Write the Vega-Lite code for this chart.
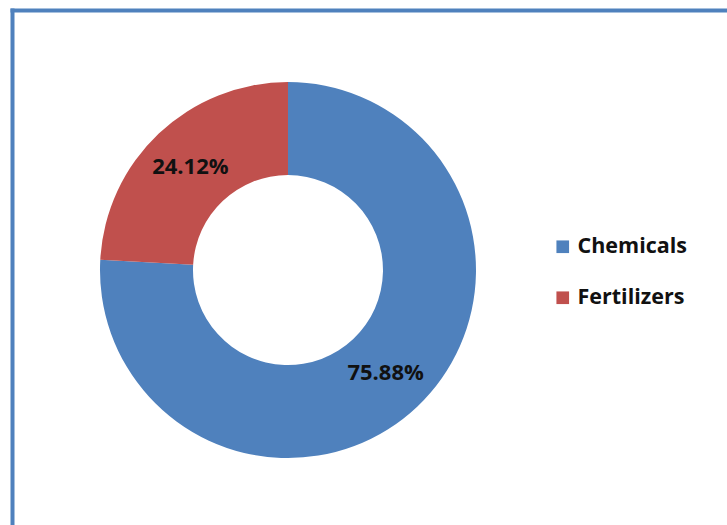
{
  "$schema": "https://vega.github.io/schema/vega-lite/v6.json",
  "width": 715,
  "height": 515,
  "autosize": {"type": "none"},
  "padding": {"left": 12, "top": 10, "right": 0, "bottom": 0},
  "background": "white",
  "data": {"values": [
    {"category": "Chemicals", "share": 0.7588},
    {"category": "Fertilizers", "share": 0.2412}
  ]},
  "encoding": {
    "theta": {"field": "share", "type": "quantitative", "stack": true},
    "order": {"field": "category", "type": "ordinal", "sort": "ascending"},
    "x": {"datum": 38.6, "type": "quantitative", "scale": {"domain": [0, 100]},
      "axis": {"orient": "top", "domainColor": "#4F81BD", "domainWidth": 4, "domainCap": "square", "ticks": false, "labels": false, "grid": false, "title": null}},
    "y": {"datum": 49.5, "type": "quantitative", "scale": {"domain": [0, 100]},
      "axis": {"orient": "left", "domainColor": "#4F81BD", "domainWidth": 4, "domainCap": "square", "ticks": false, "labels": false, "grid": false, "title": null}}
  },
  "layer": [
    {
      "mark": {"type": "arc", "innerRadius": 95, "outerRadius": 188},
      "encoding": {
        "color": {"field": "category", "type": "nominal",
          "scale": {"domain": ["Chemicals", "Fertilizers"], "range": ["#4F81BD", "#C0504D"]},
          "legend": {"orient": "none", "legendX": 540, "legendY": 226, "title": null,
            "labelFont": "Open Sans", "labelFontWeight": "bold", "labelFontSize": 21.5, "labelColor": "#111111",
            "symbolType": "square", "symbolSize": 160, "symbolStrokeWidth": 0, "rowPadding": 28, "labelOffset": 4}}
      }
    },
    {
      "mark": {"type": "text", "radius": 142, "font": "Open Sans", "fontWeight": "bold", "fontSize": 22},
      "encoding": {
        "text": {"field": "share", "type": "quantitative", "format": ".2%"},
        "detail": {"field": "category", "type": "nominal"},
        "color": {"value": "#111111"}
      }
    }
  ],
  "config": {"view": {"stroke": null}}
}
